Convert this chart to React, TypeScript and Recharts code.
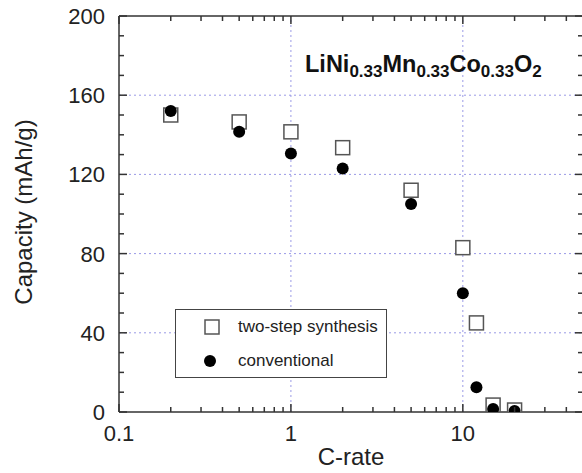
import { ScatterChart, Scatter, XAxis, YAxis, ReferenceLine, Label } from "recharts";

const cRates = [0.2, 0.5, 1, 2, 5, 10, 12, 15, 20];
const twoStep = [150, 146.5, 141.5, 133.5, 112, 83, 45, 3.5, 1];
const conventional = [152, 141.5, 130.5, 123, 105, 60, 12.5, 1.5, 0.5];

const xMajor = [0.1, 1, 10];
const xTicks = [
  0.1, 0.2, 0.3, 0.4, 0.5, 0.6, 0.7, 0.8, 0.9,
  1, 2, 3, 4, 5, 6, 7, 8, 9,
  10, 20, 30, 40, 50,
];
const yMajor = [0, 40, 80, 120, 160, 200];
const yTicks = [0, 10, 20, 30, 40, 50, 60, 70, 80, 90, 100, 110, 120, 130, 140, 150, 160, 170, 180, 190, 200];
const xGrid = [1, 10];
const yGrid = [40, 80, 120, 160];

const twoStepData = cRates.map((c, i) => ({ x: c, y: twoStep[i] }));
const conventionalData = cRates.map((c, i) => ({ x: c, y: conventional[i] }));

const FONT = "Arial, 'Liberation Sans', sans-serif";
const AXIS = "#333";
const GRID = "#9a9ae6";

const isMajorX = (v: number) => xMajor.some((m) => Math.abs(m - v) < 1e-9);

function BottomTick(props: any) {
  const { x, y, payload } = props;
  const major = isMajorX(payload.value);
  return (
    <g>
      <line x1={x} x2={x} y1={y} y2={y - (major ? 8 : 5)} stroke={AXIS} strokeWidth={1.5} />
      {major && (
        <text x={x} y={y + 29} textAnchor="middle" fontSize={22} fontFamily={FONT} fill="#222">
          {payload.value}
        </text>
      )}
    </g>
  );
}

function TopTick(props: any) {
  const { x, y, payload } = props;
  const major = isMajorX(payload.value);
  return <line x1={x} x2={x} y1={y} y2={y + (major ? 8 : 5)} stroke={AXIS} strokeWidth={1.5} />;
}

function LeftTick(props: any) {
  const { x, y, payload } = props;
  const major = yMajor.includes(payload.value);
  return (
    <g>
      <line x1={x} x2={x + (major ? 8 : 5)} y1={y} y2={y} stroke={AXIS} strokeWidth={1.5} />
      {major && (
        <text x={x - 14} y={y + 8} textAnchor="end" fontSize={22} fontFamily={FONT} fill="#222">
          {payload.value}
        </text>
      )}
    </g>
  );
}

function RightTick(props: any) {
  const { x, y, payload } = props;
  const major = yMajor.includes(payload.value);
  return <line x1={x} x2={x - (major ? 8 : 5)} y1={y} y2={y} stroke={AXIS} strokeWidth={1.5} />;
}

const Square = (p: any) => (
  <rect x={p.cx - 7} y={p.cy - 7} width={14} height={14} fill="#fff" stroke="#555" strokeWidth={1.5} />
);
const Dot = (p: any) => <circle cx={p.cx} cy={p.cy} r={6} fill="#000" />;

function LegendBox() {
  return (
    <div
      style={{
        position: "absolute",
        left: 175,
        top: 309,
        width: 210,
        height: 67,
        border: "1.5px solid #444",
        background: "#fff",
        fontFamily: FONT,
        fontSize: 17,
        color: "#222",
      }}
    >
      <svg width={30} height={67} style={{ position: "absolute", left: 21, top: 0 }}>
        <rect x={8} y={10} width={14} height={14} fill="#fff" stroke="#555" strokeWidth={1.5} />
        <circle cx={13} cy={51} r={6} fill="#000" />
      </svg>
      <div style={{ position: "absolute", left: 62, top: 7, whiteSpace: "nowrap" }}>two-step synthesis</div>
      <div style={{ position: "absolute", left: 62, top: 41, whiteSpace: "nowrap" }}>conventional</div>
    </div>
  );
}

export default function App() {
  return (
    <div style={{ position: "absolute", left: 0, top: 0, width: 582, height: 473, overflow: "hidden", background: "#fff" }}>
      <ScatterChart width={586} height={473} margin={{ top: 15, right: 2, bottom: 0, left: 0 }}>
        <XAxis
          xAxisId="b"
          dataKey="x"
          type="number"
          scale="log"
          domain={[0.1, 50]}
          allowDataOverflow
          ticks={xTicks}
          interval={0}
          tick={<BottomTick />}
          tickLine={false}
          tickSize={0}
          tickMargin={0}
          height={61}
          axisLine={{ stroke: AXIS, strokeWidth: 1.5 }}
        >
          <Label
            content={(p: any) => (
              <text
                x={p.viewBox.x + p.viewBox.width / 2}
                y={p.viewBox.y + 53}
                textAnchor="middle"
                fontSize={24}
                fontFamily={FONT}
                fill="#222"
              >
                C-rate
              </text>
            )}
          />
        </XAxis>
        <XAxis
          xAxisId="t"
          orientation="top"
          dataKey="x"
          type="number"
          scale="log"
          domain={[0.1, 50]}
          allowDataOverflow
          ticks={xTicks}
          interval={0}
          tick={<TopTick />}
          tickLine={false}
          tickSize={0}
          tickMargin={0}
          height={1}
          axisLine={{ stroke: AXIS, strokeWidth: 1.5 }}
        />
        <YAxis
          yAxisId="l"
          dataKey="y"
          type="number"
          domain={[0, 200]}
          allowDataOverflow
          ticks={yTicks}
          interval={0}
          tick={<LeftTick />}
          tickLine={false}
          tickSize={0}
          tickMargin={0}
          width={119}
          axisLine={{ stroke: AXIS, strokeWidth: 1.5 }}
        >
          <Label
            content={() => (
              <text
                x={32}
                y={212}
                transform="rotate(-90 32 212)"
                textAnchor="middle"
                fontSize={24}
                fontFamily={FONT}
                fill="#222"
              >
                Capacity (mAh/g)
              </text>
            )}
          />
        </YAxis>
        <YAxis
          yAxisId="r"
          orientation="right"
          dataKey="y"
          type="number"
          domain={[0, 200]}
          allowDataOverflow
          ticks={yTicks}
          interval={0}
          tick={<RightTick />}
          tickLine={false}
          tickSize={0}
          tickMargin={0}
          width={1}
          axisLine={{ stroke: AXIS, strokeWidth: 1.5 }}
        />
        {xGrid.map((v) => (
          <ReferenceLine key={`gx${v}`} x={v} xAxisId="b" yAxisId="l" stroke={GRID} strokeDasharray="2 3" />
        ))}
        {yGrid.map((v) => (
          <ReferenceLine key={`gy${v}`} y={v} xAxisId="b" yAxisId="l" stroke={GRID} strokeDasharray="2 3" />
        ))}
        <Scatter
          name="two-step synthesis"
          data={twoStepData}
          xAxisId="b"
          yAxisId="l"
          shape={Square}
          isAnimationActive={false}
        />
        <Scatter
          name="conventional"
          data={conventionalData}
          xAxisId="b"
          yAxisId="l"
          shape={Dot}
          isAnimationActive={false}
        />
      </ScatterChart>
      <LegendBox />
      <div
        style={{
          position: "absolute",
          left: 305,
          top: 52,
          lineHeight: "24px",
          fontFamily: FONT,
          fontWeight: "bold",
          fontSize: 23.5,
          color: "#111",
          whiteSpace: "nowrap",
        }}
      >
        LiNi<span style={{ fontSize: 17, position: "relative", top: 5 }}>0.33</span>
        Mn<span style={{ fontSize: 17, position: "relative", top: 5 }}>0.33</span>
        Co<span style={{ fontSize: 17, position: "relative", top: 5 }}>0.33</span>
        O<span style={{ fontSize: 17, position: "relative", top: 5 }}>2</span>
      </div>
    </div>
  );
}
